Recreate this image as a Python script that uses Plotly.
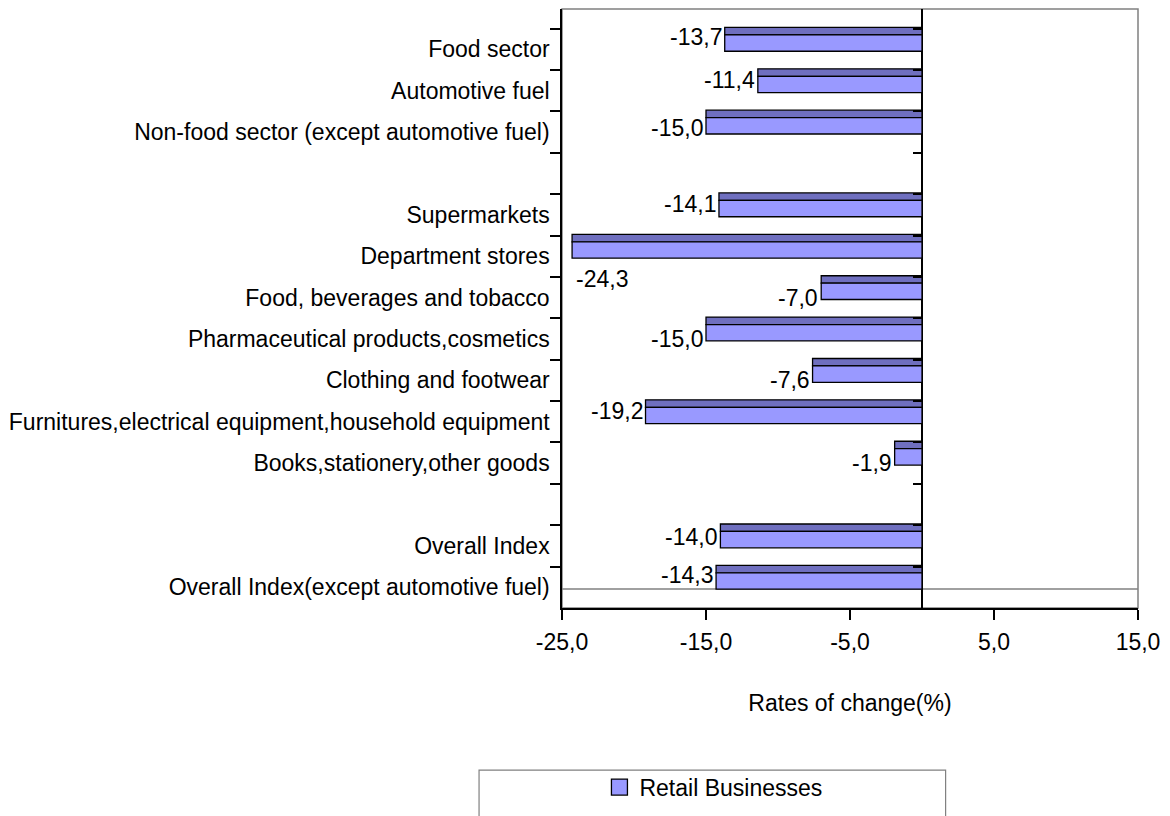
import plotly.graph_objects as go

categories = [
    "Food sector",
    "Automotive fuel",
    "Non-food sector (except automotive fuel)",
    " ",
    "Supermarkets",
    "Department stores",
    "Food, beverages and tobacco",
    "Pharmaceutical products,cosmetics",
    "Clothing and footwear",
    "Furnitures,electrical equipment,household equipment",
    "Books,stationery,other goods",
    "  ",
    "Overall Index",
    "Overall Index(except automotive fuel)",
]
values = [-13.7, -11.4, -15.0, None, -14.1, -24.3, -7.0, -15.0, -7.6, -19.2, -1.9, None, -14.0, -14.3]
series_name = "Retail Businesses"
x_ticks = [-25, -15, -5, 5, 15]
x_title = "Rates of change(%)"

# styling: vertical pixel shifts of the value labels (as placed in the original)
label_yshift = {
    "Food sector": 12, "Automotive fuel": 11, "Non-food sector (except automotive fuel)": 4,
    "Supermarkets": 11, "Department stores": -23, "Food, beverages and tobacco": 0,
    "Pharmaceutical products,cosmetics": 0, "Clothing and footwear": 0,
    "Furnitures,electrical equipment,household equipment": 11,
    "Books,stationery,other goods": 0, "Overall Index": 9,
    "Overall Index(except automotive fuel)": 12,
}

FONT = "Liberation Sans, Arial, sans-serif"
FS = 23
BAR_FRONT = "#9999FF"
BAR_TOP = "#6F6FBF"

def fmt(v):
    return f"{v:.1f}".replace(".", ",")

fig = go.Figure()
# top (depth) face of the 3D bars
fig.add_trace(go.Bar(
    y=categories, x=values, orientation="h",
    offset=-0.53, width=0.18,
    marker=dict(color=BAR_TOP, line=dict(color="black", width=1.3)),
    showlegend=False, hoverinfo="skip",
))
# front face
fig.add_trace(go.Bar(
    y=categories, x=values, orientation="h",
    offset=-0.35, width=0.395,
    marker=dict(color=BAR_FRONT, line=dict(color="black", width=1.3)),
    name=series_name, yaxis="y2", showlegend=False,
))
# legend entry (larger square swatch, like the original)
fig.add_trace(go.Scatter(
    x=[None], y=[None], mode="markers", name=series_name,
    marker=dict(symbol="square", size=22, color=BAR_FRONT, line=dict(color="black", width=1.3)),
    showlegend=True,
))

annotations = []
for c, v in zip(categories, values):
    if v is None:
        continue
    below = label_yshift.get(c, 0) < -10
    annotations.append(dict(
        x=v, y=c, xref="x", yref="y", text=fmt(v), showarrow=False,
        xanchor="left" if below else "right", yanchor="middle",
        xshift=2 if below else -1, yshift=label_yshift.get(c, 0),
        font=dict(family=FONT, size=FS, color="black"),
    ))

shapes = [
    # plot frame (grey)
    dict(type="rect", xref="paper", yref="paper", x0=0, x1=1, y0=0, y1=1,
         line=dict(color="#808080", width=1.5), layer="below"),
    # floor line
    dict(type="line", xref="paper", yref="paper", x0=0, x1=1, y0=0.0317, y1=0.0317,
         line=dict(color="#808080", width=1.5), layer="below"),
    # legend box
    dict(type="rect", xref="paper", yref="paper", x0=-0.144, x1=0.666, y0=-0.2705, y1=-0.36,
         line=dict(color="#808080", width=1.2)),
]

fig.update_layout(
    width=1162, height=808,
    margin=dict(l=552, r=32, t=1, b=208),
    paper_bgcolor="white", plot_bgcolor="white",
    font=dict(family=FONT, size=FS, color="black"),
    barmode="overlay",
    showlegend=True,
    legend=dict(x=0.065, y=-0.299, xanchor="left", yanchor="middle",
                bgcolor="rgba(0,0,0,0)", borderwidth=0, itemsizing="trace",
                font=dict(family=FONT, size=FS, color="black")),
    xaxis=dict(
        range=[-25, 15], tickvals=x_ticks, ticktext=[fmt(t) for t in x_ticks],
        ticks="outside", ticklen=10, tickcolor="black", tickwidth=1.5,
        showline=True, linecolor="black", linewidth=1.5,
        zeroline=True, zerolinecolor="black", zerolinewidth=1.5,
        showgrid=False, tickfont=dict(size=FS), ticklabelstandoff=3,
        title=dict(text=x_title, standoff=41, font=dict(size=FS)),
    ),
    yaxis=dict(
        type="category", categoryorder="array", categoryarray=categories,
        range=[13.5, -0.976], tickson="boundaries",
        ticks="outside", ticklen=10, tickcolor="black", tickwidth=1.5,
        showline=True, linecolor="black", linewidth=1.5,
        showgrid=False, zeroline=False, tickfont=dict(size=FS),
        ticklabelstandoff=6,
    ),
    yaxis2=dict(
        matches="y", overlaying="y", anchor="free", position=0.625, side="left",
        tickson="boundaries", ticks="outside", ticklen=9, tickcolor="black", tickwidth=1.5,
        showticklabels=False, showline=False, showgrid=False, zeroline=False,
    ),
    annotations=annotations,
    shapes=shapes,
)

fig.write_html("out.html")
